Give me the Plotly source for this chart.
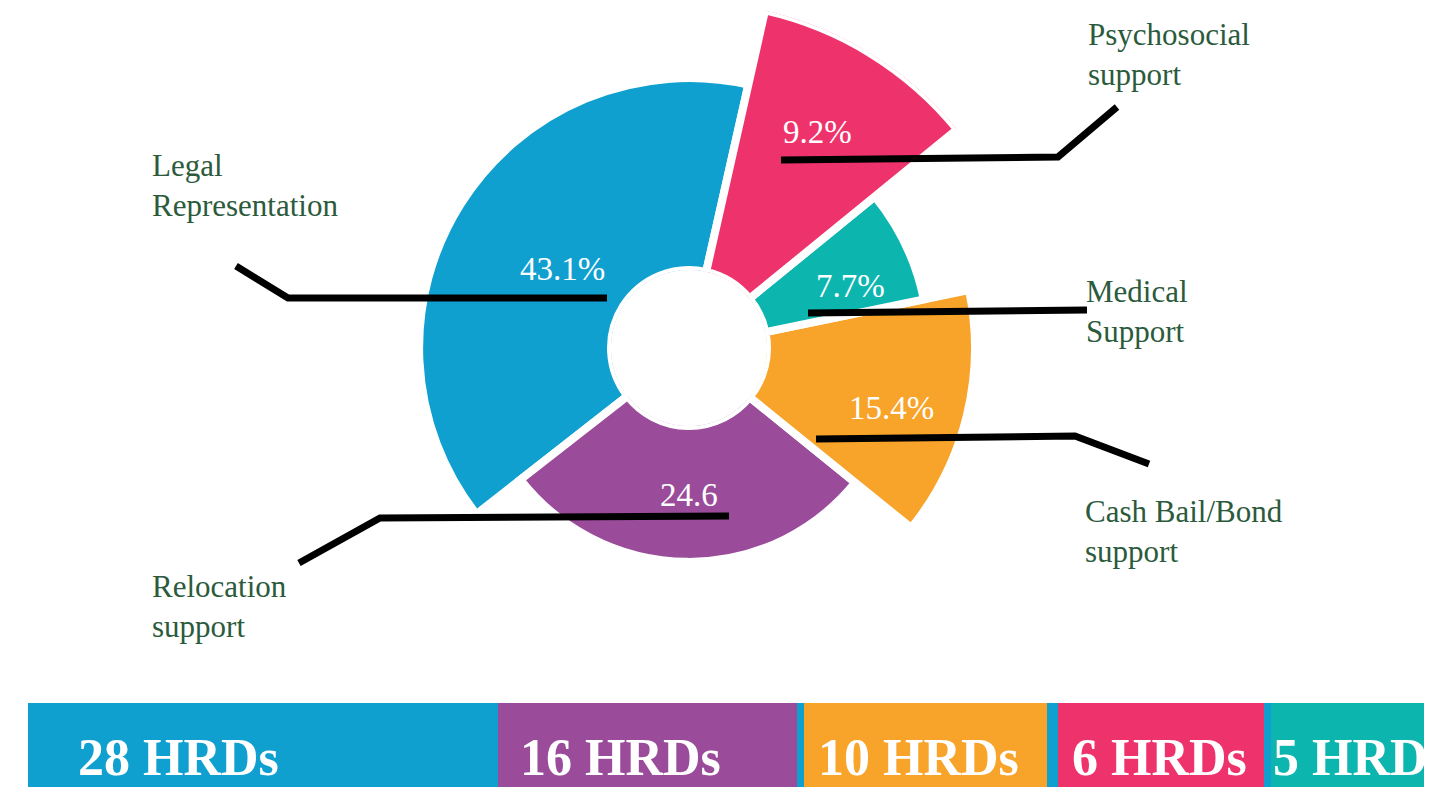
import numpy as np
import plotly.graph_objects as go

# ---------------- data ----------------
categories = ["Legal<br>Representation", "Relocation<br>support",
              "Cash Bail/Bond<br>support", "Medical<br>Support",
              "Psychosocial<br>support"]
percent_labels = ["43.1%", "24.6", "15.4%", "7.7%", "9.2%"]
hrd_counts = [28, 16, 10, 5, 6]
slice_span_deg = [140.7, 103.0, 50.7, 27.5, 38.1]   # angular width of each slice
slice_radius = [71.6, 50.7, 77.6, 60.4, 100.0]       # relative outer radius of each slice
colors = ["#10a0d0", "#9a4c9b", "#f8a329", "#0cb6af", "#ee336c"]

# bottom strip (left to right)
strip_order = [0, 1, 2, 4, 3]
strip_lengths = [470, 299, 243, 206, 153]
strip_gaps = [0, 0, 7, 11, 7]
strip_text_pad = [50, 22, 14, 14, 2]

W, H = 1445, 787
def X(px):
    return px / W
def Y(py):
    return 1 - py / H

# ---------------- polar (rose) chart ----------------
spans = np.array(slice_span_deg)
starts = np.concatenate([[0], np.cumsum(spans)[:-1]])
centers = starts + spans / 2

cx, cy, R = 689, 348, 346
fig = go.Figure()
fig.add_trace(go.Barpolar(
    r=slice_radius, theta=centers, width=spans,
    marker=dict(color=colors, line=dict(color="white", width=8)),
    hoverinfo="skip", showlegend=False,
))

# ---------------- bottom strip ----------------
total = sum(strip_lengths) + sum(strip_gaps)
fig.add_trace(go.Bar(x=[total], y=[0.5], base=[0], orientation="h", width=1,
                     marker=dict(color=colors[0], line=dict(width=0)),
                     xaxis="x", yaxis="y", hoverinfo="skip", showlegend=False))
pos = 0
tx, tt = [], []
for k, idx in enumerate(strip_order):
    pos += strip_gaps[k]
    start = pos
    pos += strip_lengths[k]
    if k > 0:
        fig.add_trace(go.Bar(x=[strip_lengths[k]], y=[0.5], base=[start], orientation="h",
                             width=1, marker=dict(color=colors[idx], line=dict(width=0)),
                             xaxis="x", yaxis="y", hoverinfo="skip", showlegend=False))
    tx.append(start + strip_text_pad[k])
    tt.append(f"{hrd_counts[idx]} HRDs")

fig.add_trace(go.Scatter(x=tx, y=[0.30] * len(tx), text=tt, mode="text",
                         textposition="middle right", cliponaxis=True,
                         textfont=dict(family="Liberation Serif", size=52, color="white", weight="bold"),
                         xaxis="x", yaxis="y", hoverinfo="skip", showlegend=False))

# ---------------- leader lines ----------------
leaders = [
    [(607, 298), (288, 298), (236, 266)],
    [(781, 160), (1058, 157), (1117, 107)],
    [(808, 313), (1087, 310)],
    [(816, 439), (1075, 436), (1149, 464)],
    [(729, 516), (380, 518), (299, 563)],
]
shapes = []
for pts in leaders:
    path = "M " + " L ".join(f"{X(a):.5f},{Y(b):.5f}" for a, b in pts)
    shapes.append(dict(type="path", path=path, xref="paper", yref="paper",
                       line=dict(color="black", width=7), layer="above"))

# ---------------- annotations ----------------
annotations = []
green = "#2b5a3c"
label_pos = {0: (150, 146), 1: (150, 567), 2: (1083, 492), 3: (1084, 272), 4: (1086, 15)}
for i, (lx, ly) in label_pos.items():
    annotations.append(dict(text=categories[i], x=X(lx), y=Y(ly), xref="paper", yref="paper",
                            xanchor="left", yanchor="top", align="left", showarrow=False,
                            font=dict(family="Liberation Serif", size=31, color=green)))
pct_pos = {0: (562, 281), 1: (689, 507), 2: (891, 420), 3: (850, 298), 4: (817, 144)}
for i, (lx, base) in pct_pos.items():
    annotations.append(dict(text=percent_labels[i], x=X(lx), y=Y(base + 8), xref="paper", yref="paper",
                            xanchor="center", yanchor="bottom", showarrow=False,
                            font=dict(family="Liberation Serif", size=33, color="white")))

fig.update_layout(
    width=W, height=H, autosize=False,
    margin=dict(l=0, r=0, t=0, b=0),
    paper_bgcolor="white", plot_bgcolor="rgba(0,0,0,0)",
    polar=dict(
        domain=dict(x=[X(cx - R), X(cx + R)], y=[Y(cy + R), Y(cy - R)]),
        hole=78 / R,
        bgcolor="rgba(0,0,0,0)",
        radialaxis=dict(range=[0, 100], visible=False, showgrid=False),
        angularaxis=dict(visible=False, showgrid=False, direction="counterclockwise",
                         rotation=77.3),
    ),
    barmode="overlay",
    xaxis=dict(domain=[X(28), X(1424)], range=[0, total], visible=False, fixedrange=True),
    yaxis=dict(domain=[0, Y(703)], range=[0, 1], visible=False, fixedrange=True),
    shapes=shapes,
    annotations=annotations,
    showlegend=False,
)

fig.write_html("out.html", config={"displayModeBar": False},
               post_script="document.body.style.margin='0';")
